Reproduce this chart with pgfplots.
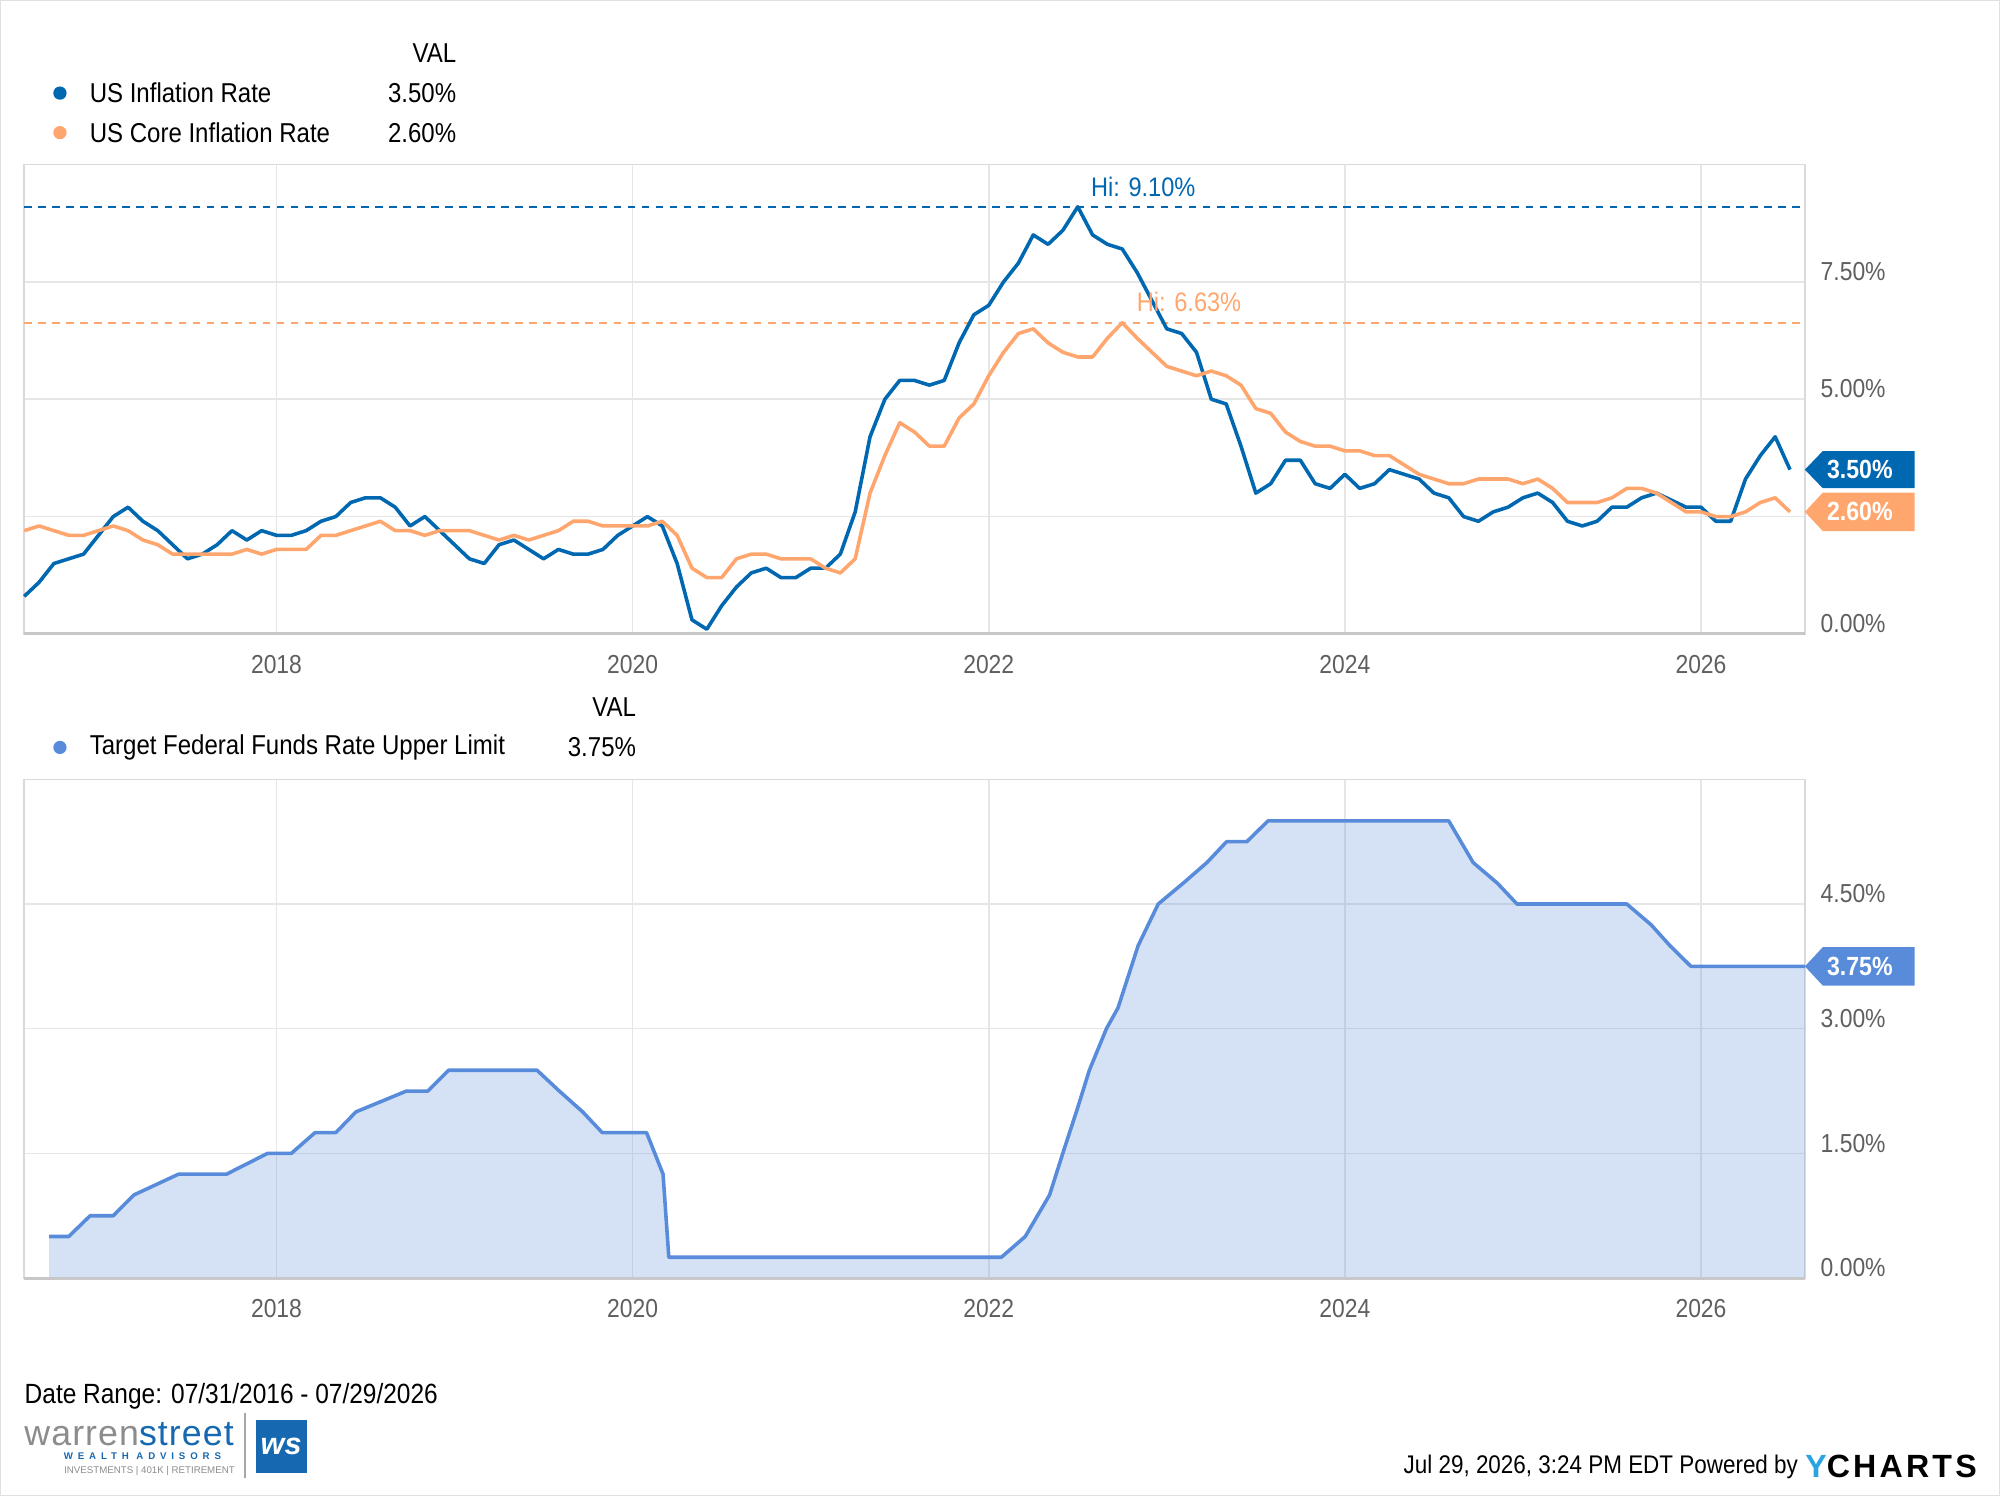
\documentclass[border=0pt]{standalone}
\usepackage{fontspec}
\setmainfont{Liberation Sans}[FakeStretch=0.88]
\newfontfamily\logofont{Liberation Sans}[LetterSpace=3]
\newfontfamily\wafont{Liberation Sans}[LetterSpace=50]
\newfontfamily\ycfont{Liberation Sans}[LetterSpace=10]
\newfontfamily\plainfont{Liberation Sans}
\usepackage{pgfplots}
\pgfplotsset{compat=1.18}
\definecolor{cpi}{RGB}{0,103,177}
\definecolor{core}{RGB}{255,166,110}
\definecolor{ffr}{RGB}{88,140,219}
\definecolor{gridc}{RGB}{230,230,230}
\definecolor{framec}{RGB}{218,218,218}
\definecolor{framebot}{RGB}{200,200,200}
\definecolor{tickc}{RGB}{95,95,95}
\definecolor{logogray}{RGB}{140,140,140}
\definecolor{logoblue}{RGB}{22,104,176}
\definecolor{ycblue}{RGB}{40,165,225}
\pgfplotsset{mystyle/.style={
  scale only axis, width=698pt,
  xmin=7, xmax=127,
  xtick={24,48,72,96,120}, xticklabels={2018,2020,2022,2024,2026},
  major tick length=0pt,
  grid=major, major grid style={gridc, line width=0.6pt},
  axis line style={framec, line width=0.6pt},
  yticklabel pos=right,
  tick label style={font=\fontsize{10.2}{12}\selectfont, text=tickc},
  xticklabel style={anchor=north, inner sep=0pt, yshift=-8pt},
  yticklabel style={anchor=west, inner sep=0pt, xshift=6pt, yshift=4pt},
  clip=false,
}}
\newcommand{\lf}{\fontsize{10.7}{12.8}\selectfont}
\begin{document}
\begin{tikzpicture}
% outer frame (sets picture size)
\draw[black!12, line width=0.5pt] (0.25pt,0.25pt) rectangle (783.75pt,586.25pt);

% ---------- top legend ----------
\node[anchor=east, inner sep=0pt, font=\lf] at (179pt,565.5pt) {VAL};
\fill[cpi] (23.5pt,550pt) circle (2.6pt);
\node[anchor=west, inner sep=0pt, font=\lf] at (35pt,550pt) {US Inflation Rate};
\node[anchor=east, inner sep=0pt, font=\lf] at (179pt,550pt) {3.50\%};
\fill[core] (23.5pt,534.5pt) circle (2.6pt);
\node[anchor=west, inner sep=0pt, font=\lf] at (35pt,534.5pt) {US Core Inflation Rate};
\node[anchor=east, inner sep=0pt, font=\lf] at (179pt,534.5pt) {2.60\%};

% ---------- top axis ----------
\begin{axis}[mystyle, at={(9.5pt,338pt)}, anchor=south west, height=184pt,
  ymin=0, ymax=10, ytick={0,2.5,5,7.5,10},
  yticklabels={0.00\%,,5.00\%,7.50\%,}]
\addplot[cpi, line width=0.8pt, dash pattern=on 3pt off 2.5pt] coordinates {(7,9.1) (127,9.1)};
\addplot[core, line width=0.8pt, dash pattern=on 3pt off 2.5pt] coordinates {(7,6.63) (127,6.63)};
\addplot[cpi, line width=1.4pt, line join=round] coordinates {
(7,0.8)(8,1.1)(9,1.5)(10,1.6)(11,1.7)(12,2.1)
(13,2.5)(14,2.7)(15,2.4)(16,2.2)(17,1.9)(18,1.6)(19,1.7)(20,1.9)(21,2.2)(22,2.0)(23,2.2)(24,2.1)
(25,2.1)(26,2.2)(27,2.4)(28,2.5)(29,2.8)(30,2.9)(31,2.9)(32,2.7)(33,2.3)(34,2.5)(35,2.2)(36,1.9)
(37,1.6)(38,1.5)(39,1.9)(40,2.0)(41,1.8)(42,1.6)(43,1.8)(44,1.7)(45,1.7)(46,1.8)(47,2.1)(48,2.3)
(49,2.5)(50,2.3)(51,1.5)(52,0.3)(53,0.1)(54,0.6)(55,1.0)(56,1.3)(57,1.4)(58,1.2)(59,1.2)(60,1.4)
(61,1.4)(62,1.7)(63,2.6)(64,4.2)(65,5.0)(66,5.4)(67,5.4)(68,5.3)(69,5.4)(70,6.2)(71,6.8)(72,7.0)
(73,7.5)(74,7.9)(75,8.5)(76,8.3)(77,8.6)(78,9.1)(79,8.5)(80,8.3)(81,8.2)(82,7.7)(83,7.1)(84,6.5)
(85,6.4)(86,6.0)(87,5.0)(88,4.9)(89,4.0)(90,3.0)(91,3.2)(92,3.7)(93,3.7)(94,3.2)(95,3.1)(96,3.4)
(97,3.1)(98,3.2)(99,3.5)(100,3.4)(101,3.3)(102,3.0)(103,2.9)(104,2.5)(105,2.4)(106,2.6)(107,2.7)(108,2.9)
(109,3.0)(110,2.8)(111,2.4)(112,2.3)(113,2.4)(114,2.7)(115,2.7)(116,2.9)(117,3.0)(119,2.7)(120,2.7)
(121,2.4)(122,2.4)(123,3.3)(124,3.8)(125,4.2)(126,3.5)};
\addplot[core, line width=1.4pt, line join=round] coordinates {
(7,2.2)(8,2.3)(9,2.2)(10,2.1)(11,2.1)(12,2.2)
(13,2.3)(14,2.2)(15,2.0)(16,1.9)(17,1.7)(18,1.7)(19,1.7)(20,1.7)(21,1.7)(22,1.8)(23,1.7)(24,1.8)
(25,1.8)(26,1.8)(27,2.1)(28,2.1)(29,2.2)(30,2.3)(31,2.4)(32,2.2)(33,2.2)(34,2.1)(35,2.2)(36,2.2)
(37,2.2)(38,2.1)(39,2.0)(40,2.1)(41,2.0)(42,2.1)(43,2.2)(44,2.4)(45,2.4)(46,2.3)(47,2.3)(48,2.3)
(49,2.3)(50,2.4)(51,2.1)(52,1.4)(53,1.2)(54,1.2)(55,1.6)(56,1.7)(57,1.7)(58,1.6)(59,1.6)(60,1.6)
(61,1.4)(62,1.3)(63,1.6)(64,3.0)(65,3.8)(66,4.5)(67,4.3)(68,4.0)(69,4.0)(70,4.6)(71,4.9)(72,5.5)
(73,6.0)(74,6.4)(75,6.5)(76,6.2)(77,6.0)(78,5.9)(79,5.9)(80,6.3)(81,6.63)(82,6.3)(83,6.0)(84,5.7)
(85,5.6)(86,5.5)(87,5.6)(88,5.5)(89,5.3)(90,4.8)(91,4.7)(92,4.3)(93,4.1)(94,4.0)(95,4.0)(96,3.9)
(97,3.9)(98,3.8)(99,3.8)(100,3.6)(101,3.4)(102,3.3)(103,3.2)(104,3.2)(105,3.3)(106,3.3)(107,3.3)(108,3.2)
(109,3.3)(110,3.1)(111,2.8)(112,2.8)(113,2.8)(114,2.9)(115,3.1)(116,3.1)(117,3.0)(119,2.6)(120,2.6)
(121,2.5)(122,2.5)(123,2.6)(124,2.8)(125,2.9)(126,2.6)};
\draw[framebot, line width=1.2pt] (rel axis cs:0,0) -- (rel axis cs:1,0);
\node[anchor=base west, inner sep=0pt, text=cpi, font=\fontsize{10.5}{12}\selectfont, xshift=5pt, yshift=4pt] at (axis cs:78,9.1) {Hi: 9.10\%};
\node[anchor=base west, inner sep=0pt, text=core, font=\fontsize{10.5}{12}\selectfont, xshift=5.5pt, yshift=4.5pt] at (axis cs:81,6.63) {Hi: 6.63\%};
% value tags
\fill[cpi] (axis cs:127,3.5) -- ++(7pt,7.25pt) -- ++(36pt,0pt) -- ++(0pt,-14.5pt) -- ++(-36pt,0pt) -- cycle;
\node[anchor=west, inner sep=0pt, text=white, font=\bfseries\fontsize{10.3}{12}\selectfont, xshift=8.5pt] at (axis cs:127,3.5) {3.50\%};
\fill[core] (axis cs:127,2.6) -- ++(7pt,7.5pt) -- ++(36pt,0pt) -- ++(0pt,-15pt) -- ++(-36pt,0pt) -- cycle;
\node[anchor=west, inner sep=0pt, text=white, font=\bfseries\fontsize{10.3}{12}\selectfont, xshift=8.5pt] at (axis cs:127,2.6) {2.60\%};
\end{axis}

% ---------- bottom legend ----------
\node[anchor=east, inner sep=0pt, font=\lf] at (249.5pt,309.5pt) {VAL};
\fill[ffr] (23.5pt,293.5pt) circle (2.6pt);
\node[anchor=west, inner sep=0pt, font=\lf] at (35pt,293.5pt) {Target Federal Funds Rate Upper Limit};
\node[anchor=east, inner sep=0pt, font=\lf] at (249.5pt,293.5pt) {3.75\%};

% ---------- bottom axis ----------
\begin{axis}[mystyle, at={(9.5pt,85.5pt)}, anchor=south west, height=195.5pt,
  ymin=0, ymax=6, ytick={0,1.5,3,4.5,6},
  yticklabels={0.00\%,1.50\%,3.00\%,4.50\%,}]
\addplot[draw=none, fill=ffr, fill opacity=0.25] coordinates {
(8.68,0.5)(10.0,0.5)(11.44,0.75)(13.0,0.75)(14.39,1.0)(17.4,1.25)(20.63,1.25)(23.4,1.5)(25.0,1.5)
(26.6,1.75)(28.0,1.75)(29.36,2.0)(32.76,2.25)(34.2,2.25)(35.6,2.5)(41.56,2.5)(43.06,2.25)(44.63,2.0)
(45.95,1.75)(48.94,1.75)(50.05,1.25)(50.44,0.25)(72.85,0.25)(74.46,0.5)(76.1,1.0)(77.08,1.55)
(77.96,2.03)(78.78,2.5)(79.93,3.0)(80.71,3.25)(82.07,4.0)(83.42,4.5)(85.1,4.75)(86.71,5.0)(88.03,5.25)
(89.39,5.25)(90.82,5.5)(103.0,5.5)(104.64,5.0)(106.28,4.75)(107.6,4.5)(115.0,4.5)(116.64,4.25)
(117.9,4.0)(119.32,3.75)(127,3.75)} \closedcycle;
\addplot[ffr, line width=1.4pt, line join=round] coordinates {
(8.68,0.5)(10.0,0.5)(11.44,0.75)(13.0,0.75)(14.39,1.0)(17.4,1.25)(20.63,1.25)(23.4,1.5)(25.0,1.5)
(26.6,1.75)(28.0,1.75)(29.36,2.0)(32.76,2.25)(34.2,2.25)(35.6,2.5)(41.56,2.5)(43.06,2.25)(44.63,2.0)
(45.95,1.75)(48.94,1.75)(50.05,1.25)(50.44,0.25)(72.85,0.25)(74.46,0.5)(76.1,1.0)(77.08,1.55)
(77.96,2.03)(78.78,2.5)(79.93,3.0)(80.71,3.25)(82.07,4.0)(83.42,4.5)(85.1,4.75)(86.71,5.0)(88.03,5.25)
(89.39,5.25)(90.82,5.5)(103.0,5.5)(104.64,5.0)(106.28,4.75)(107.6,4.5)(115.0,4.5)(116.64,4.25)
(117.9,4.0)(119.32,3.75)(127,3.75)};
\draw[framebot, line width=1.2pt] (rel axis cs:0,0) -- (rel axis cs:1,0);
\fill[ffr] (axis cs:127,3.75) -- ++(7pt,7.5pt) -- ++(36pt,0pt) -- ++(0pt,-15pt) -- ++(-36pt,0pt) -- cycle;
\node[anchor=west, inner sep=0pt, text=white, font=\bfseries\fontsize{10.3}{12}\selectfont, xshift=8.5pt] at (axis cs:127,3.75) {3.75\%};
\end{axis}

% ---------- footer ----------
\node[anchor=west, inner sep=0pt, font=\fontsize{10.9}{13}\selectfont] at (9.5pt,39pt) {Date Range: 07/31/2016 - 07/29/2026};
\node[anchor=base west, inner sep=0pt, font=\logofont\fontsize{14}{16}\selectfont] at (9.4pt,20pt) {\textcolor{logogray}{warren}\textcolor{logoblue}{street}};
\node[anchor=base west, inner sep=0pt, text=logoblue, font=\wafont\bfseries\fontsize{3.8}{4.5}\selectfont] at (24.85pt,14.2pt) {WEALTH ADVISORS};
\node[anchor=base west, inner sep=0pt, text=logogray, font=\plainfont\fontsize{3.8}{4.5}\selectfont] at (25pt,8.7pt) {INVESTMENTS | 401K | RETIREMENT};
\draw[black!35, line width=0.5pt] (96pt,7pt) -- (96pt,32.7pt);
\fill[logoblue] (100.2pt,9pt) rectangle (120.2pt,30pt);
\node[text=white, inner sep=0pt, font=\plainfont\bfseries\itshape\fontsize{12}{14}\selectfont] at (110.2pt,19.5pt) {ws};
\node[anchor=east, inner sep=0pt, font=\fontsize{10}{12}\selectfont] at (705pt,11.5pt) {Jul 29, 2026, 3:24 PM EDT Powered by};
\node[anchor=west, inner sep=0pt, font=\ycfont\bfseries\fontsize{12.6}{14}\selectfont] at (707.5pt,11.5pt) {\textcolor{ycblue}{Y}CHARTS};
\end{tikzpicture}
\end{document}
